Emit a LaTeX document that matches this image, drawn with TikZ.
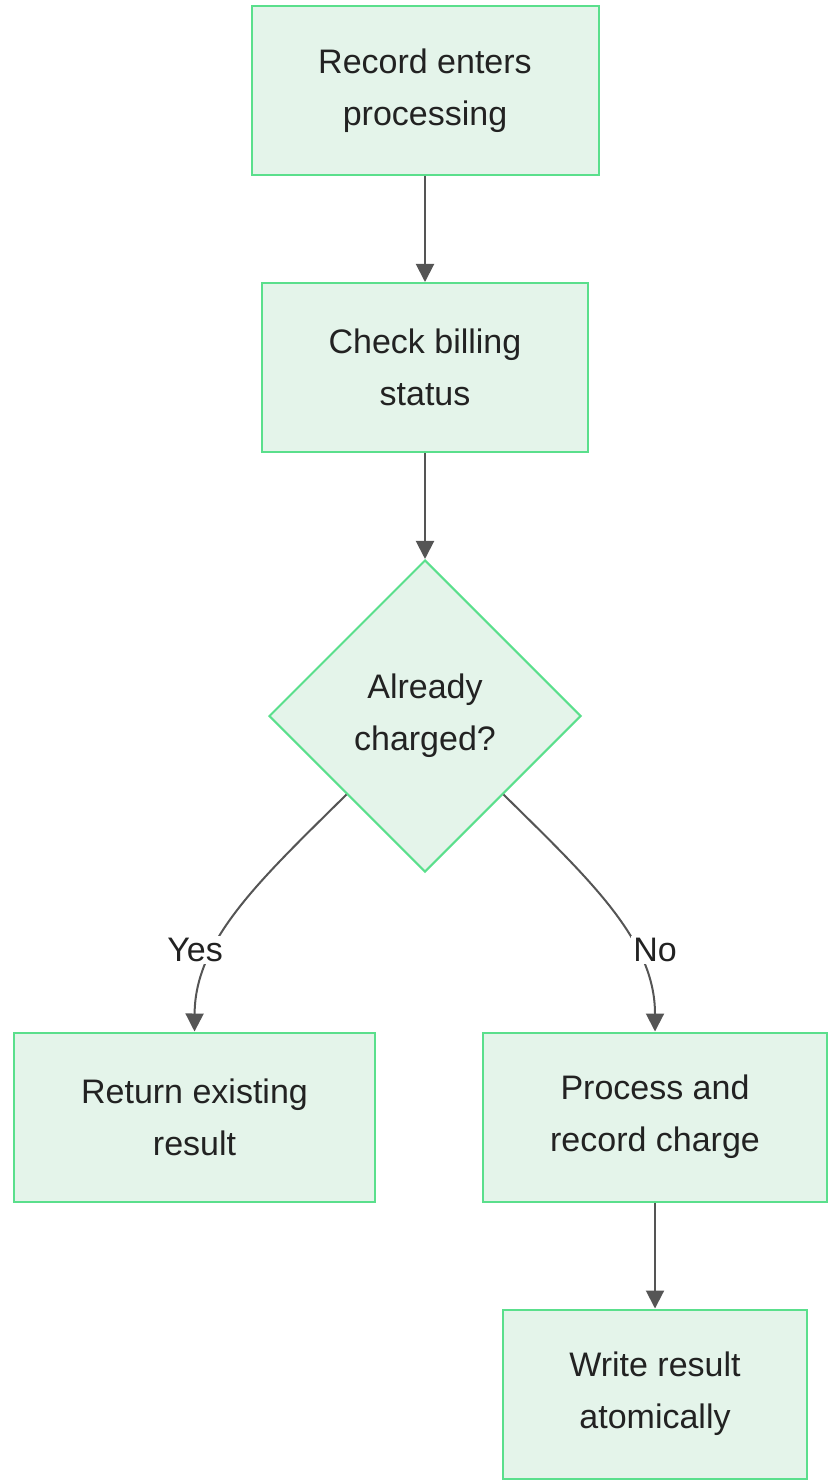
\documentclass[tikz,border=0pt]{standalone}
\usepackage{fontspec}
\setmainfont{Liberation Sans}
\usetikzlibrary{shapes.geometric,arrows.meta}
\definecolor{boxfill}{HTML}{E4F4EA}
\definecolor{boxline}{HTML}{5ADF8C}
\definecolor{edgegray}{HTML}{555555}
\definecolor{txt}{HTML}{222222}
\begin{document}
\begin{tikzpicture}[x=.5pt,y=-.5pt,font=\fontsize{17}{26}\selectfont,
 stepbox/.style={draw=boxline,fill=boxfill,line width=1pt,align=center,text=txt,inner sep=0pt,minimum height=84.5pt},
 choice/.style={draw=boxline,fill=boxfill,line width=1pt,align=center,text=txt,inner sep=0pt,diamond,aspect=1,minimum width=156pt,minimum height=156pt},
 flow/.style={draw=edgegray,line width=1pt,-{Triangle[length=9pt,width=9pt]}},
 lbl/.style={fill=white,text=txt,inner sep=1pt}]
\useasboundingbox (0,0) rectangle (828,1481);
% boxes
\node[stepbox,minimum width=173.5pt] (rec) at (425,90.5){Record enters\\processing};
\node[stepbox,minimum width=163pt] (chk) at (425,367.5){Check billing\\status};
\node[choice] (dec) at (425,716){Already\\charged?};
\node[stepbox,minimum width=180.5pt] (ret) at (194.5,1117){Return existing\\result};
\node[stepbox,minimum width=172pt] (proc) at (655,1117){Process and\\record charge};
\node[stepbox,minimum width=152pt] (wr) at (655,1394){Write result\\atomically};
% connectors
\draw[flow] (rec)--(chk);\draw[flow] (chk)--(dec);
\draw[flow] (dec.south west) .. controls (260,880) and (195,940) .. (ret.north);\node[lbl] (yes) at (195,950){Yes};
\draw[flow] (dec.south east) .. controls (590,880) and (655,940) .. (proc.north);\node[lbl] (no) at (655,950){No};
\draw[flow] (proc)--(wr);
\end{tikzpicture}
\end{document}
